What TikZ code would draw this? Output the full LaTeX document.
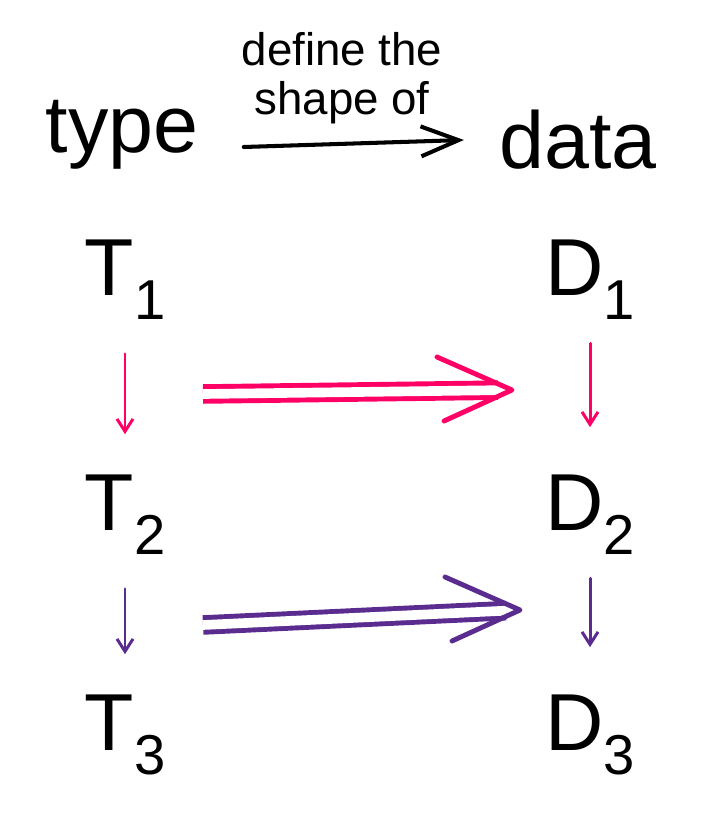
\documentclass[tikz,border=0pt]{standalone}
\usepackage{fontspec}
\setmainfont{Liberation Sans}
\usetikzlibrary{arrows.meta}
\definecolor{pinkish}{HTML}{FF0066}
\definecolor{purplish}{HTML}{5B2C8F}
\newcommand{\idx}[1]{\raisebox{-0.3em}{\fontsize{32}{32}\selectfont #1}}

\begin{document}
\begin{tikzpicture}[x=0.02cm, y=-0.02cm,
    word/.style={font=\fontsize{46}{50}\selectfont, inner sep=0pt},
    note/.style={font=\fontsize{26}{28}\selectfont, align=center, inner sep=0pt},
    mainarr/.style={line width=2.3pt, line cap=round,
      -{Straight Barb[length=0.75cm, width=0.6cm]}},
    downarr/.style={line width=1.7pt, line cap=round,
      -{Straight Barb[length=0.25cm, width=0.32cm]}},
    dblline/.style={double=white, double distance=5.5pt, line width=2.8pt},
    dblhead/.style={line width=2.8pt, line cap=round, line join=round}]
    \useasboundingbox (0,0) rectangle (715,817);

    % Cabecera
    \node[word] (type) at (122,135) {type};
    \node[word] (data) at (578,140) {data};
    \node[note] (shape) at (342,78) {define the\\shape of};
    \draw[mainarr] (type.east) ++(45,12) coordinate (a0)
      -- ([xshift=-20pt]data.west |- 0,140) coordinate (a1);

    % Tipos y datos
    \foreach \i/\y in {1/280, 2/515, 3/735} {
      \node[word] (T\i) at (125,\y) {T\idx{\i}};
      \node[word] (D\i) at (590,\y) {D\idx{\i}};
    }

    % Flechas entre filas
    \foreach \i/\j/\c in {1/2/pinkish, 2/3/purplish} {
      \draw[downarr, draw=\c, shorten <=42pt, shorten >=46pt]
        (T\i.center) -- (T\j.center);
      \draw[downarr, draw=\c, shorten <=36pt, shorten >=50pt]
        (D\i.center) -- (D\j.center);
    }

    % Flechas dobles
    \foreach \i/\c/\sy/\ex/\ey in {1/pinkish/394/512/390, 2/purplish/625/520/610} {
      \coordinate (s\i) at (203,\sy);
      \coordinate (e\i) at (\ex,\ey);
      \draw[dblline, draw=\c, shorten >=8pt] (s\i) -- (e\i);
      \draw[dblhead, draw=\c] (e\i) ++(-75,-33) -- (e\i) -- ++(-68,31);
    }
\end{tikzpicture}
\end{document}
